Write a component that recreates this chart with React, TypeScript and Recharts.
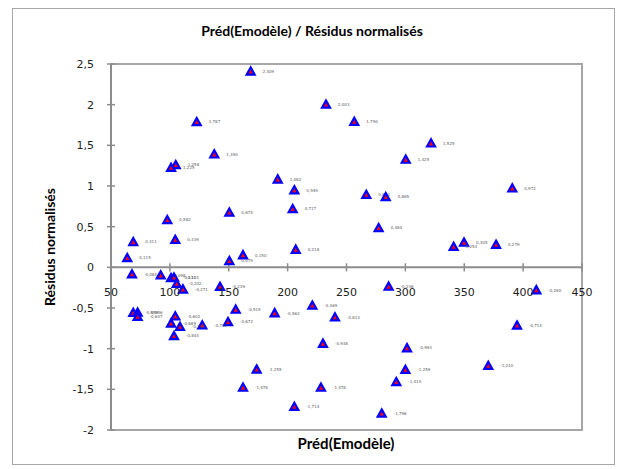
import React from "react";
import {
  ScatterChart,
  Scatter,
  XAxis,
  YAxis,
  ReferenceLine,
  ReferenceArea,
} from "recharts";

// Préd(Emodèle) for each observation
const predicted = [
  168.6, 232.6, 256.6, 122.8, 321.8, 137.7, 300.3, 105.0, 101.0, 191.6,
  390.8, 205.7, 266.8, 283.3, 204.3, 150.5, 97.8, 277.3, 104.6, 68.9,
  349.8, 377.0, 341.0, 206.9, 162.1, 63.8, 150.5, 67.8, 92.2, 101.0,
  103.5, 105.8, 142.6, 285.8, 111.1, 411.2, 221.0, 155.9, 68.9, 72.6,
  189.0, 104.6, 72.6, 240.2, 149.4, 101.0, 127.5, 394.8, 108.6, 103.5,
  230.0, 301.4, 370.4, 173.7, 300.0, 292.3, 162.1, 228.3, 205.7, 279.9,
];

// normalised residuals (same order)
const residuals = [
  2.409, 2.003, 1.79, 1.787, 1.525, 1.39, 1.325, 1.258, 1.225, 1.082,
  0.972, 0.949, 0.893, 0.865, 0.717, 0.674, 0.582, 0.484, 0.339, 0.311,
  0.305, 0.279, 0.253, 0.218, 0.15, 0.115, 0.079, -0.084, -0.098, -0.131,
  -0.124, -0.202, -0.239, -0.236, -0.271, -0.28, -0.469, -0.519, -0.559, -0.556,
  -0.563, -0.602, -0.607, -0.613, -0.672, -0.689, -0.712, -0.714, -0.73, -0.844,
  -0.938, -0.993, -1.21, -1.255, -1.259, -1.41, -1.478, -1.478, -1.714, -1.796,
];

const xTicks = [50, 100, 150, 200, 250, 300, 350, 400, 450];
const yTicks = [-2, -1.5, -1, -0.5, 0, 0.5, 1, 1.5, 2, 2.5];

const points = predicted.map((x, i) => ({ x, y: residuals[i] }));

const AXIS = "#8c8c8c";
const BORDER = "#a6a6a6";
const TICK_FONT = "DejaVu Sans";
const TITLE_FONT = "Lato";

const comma = (v: number) => String(v).replace(".", ",");
const fmt3 = (v: number) => v.toFixed(3).replace(".", ",");

function Marker(props: any) {
  const { cx, cy, payload } = props;
  if (cx == null || cy == null) return null;
  return (
    <g>
      <polygon
        points={`${cx},${cy - 4} ${cx + 4},${cy + 3.2} ${cx - 4},${cy + 3.2}`}
        fill="#ff0000"
        stroke="#0000ff"
        strokeWidth={2.2}
      />
      <text
        x={cx + 12}
        y={cy + 1.4}
        fontSize={4}
        fontFamily={TICK_FONT}
        fill="#595959"
      >
        {fmt3(payload.y)}
      </text>
    </g>
  );
}

export default function App() {
  return (
    <div
      style={{
        position: "absolute",
        left: 0,
        top: 0,
        width: 620,
        height: 469,
        background: "#fff",
      }}
    >
      <div
        style={{
          position: "absolute",
          left: 12,
          top: 8,
          width: 603,
          height: 457,
          boxSizing: "border-box",
          border: `1.5px solid ${BORDER}`,
        }}
      />
      <div
        style={{
          position: "absolute",
          left: 0,
          width: 620,
          top: 22,
          textAlign: "center",
          fontFamily: TITLE_FONT,
          fontWeight: 700,
          fontSize: 14,
          paddingLeft: 2,
        }}
      >
        Préd(Emodèle) / Résidus normalisés
      </div>

      <div style={{ position: "absolute", left: 0, top: 0 }}>
        <ScatterChart
          width={620}
          height={469}
          margin={{ top: 64, right: 38, bottom: 39, left: 51 }}
        >
          <XAxis
            type="number"
            dataKey="x"
            domain={[50, 450]}
            ticks={xTicks}
            hide
          />
          <YAxis
            type="number"
            dataKey="y"
            domain={[-2, 2.5]}
            ticks={yTicks}
            interval={0}
            width={60}
            tickFormatter={comma}
            tickSize={4}
            tickMargin={13}
            axisLine={{ stroke: AXIS, strokeWidth: 2 }}
            tickLine={{ stroke: AXIS, strokeWidth: 1.5 }}
            tick={{ fill: "#222", fontSize: 11, fontFamily: TICK_FONT }}
          />
          <ReferenceArea
            x1={50}
            x2={450}
            y1={-2}
            y2={2.5}
            fill="none"
            stroke={BORDER}
            strokeWidth={2}
          />
          {yTicks.map((v) => (
            <ReferenceLine
              key={"yt" + v}
              segment={[
                { x: 50, y: v },
                { x: 53.4, y: v },
              ]}
              stroke={AXIS}
              strokeWidth={1.5}
            />
          ))}
          <ReferenceLine y={0} stroke={AXIS} strokeWidth={2} />
          {xTicks.map((v) => (
            <ReferenceLine
              key={"xt" + v}
              segment={[
                { x: v, y: -0.05 },
                { x: v, y: 0.05 },
              ]}
              stroke={AXIS}
              strokeWidth={1.5}
              label={{
                value: String(v),
                position: "bottom",
                offset: 17,
                fill: "#222",
                fontSize: 11,
                fontFamily: TICK_FONT,
              }}
            />
          ))}
          <Scatter
            data={points}
            shape={<Marker />}
            isAnimationActive={false}
          />
        </ScatterChart>
      </div>

      <div
        style={{
          position: "absolute",
          left: 49,
          top: 247,
          transform: "translate(-50%, -50%) rotate(-90deg)",
          whiteSpace: "nowrap",
          fontFamily: TITLE_FONT,
          fontWeight: 700,
          fontSize: 14,
        }}
      >
        Résidus normalisés
      </div>
      <div
        style={{
          position: "absolute",
          left: 346,
          top: 443,
          transform: "translate(-50%, -50%)",
          whiteSpace: "nowrap",
          fontFamily: TITLE_FONT,
          fontWeight: 700,
          fontSize: 15,
        }}
      >
        Préd(Emodèle)
      </div>
    </div>
  );
}
